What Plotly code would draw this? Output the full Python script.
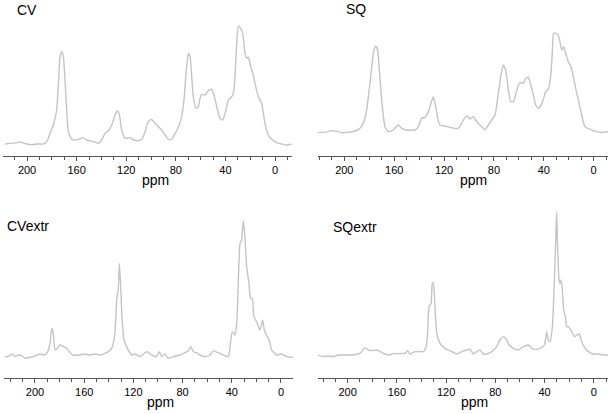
import plotly.graph_objects as go

# ---------------- data ----------------
cv_ppm = [217.7, 208.3, 205.6, 200.3, 194.9, 192.2, 186.8, 184.1, 181.5, 178.8, 176.1, 174.7, 173.4, 172.0,
          170.7, 169.4, 168.0, 166.7, 164.0, 161.3, 158.6, 155.1, 151.9, 146.5, 142.5, 139.8, 137.1, 134.4,
          131.7, 129.0, 127.2, 125.5, 123.7, 121.0, 116.9, 114.2, 110.2, 107.5, 104.8, 102.2, 99.5, 96.8,
          94.1, 91.4, 88.7, 86.0, 83.3, 80.6, 78.0, 75.3, 73.4, 71.8, 69.9, 68.5, 67.2, 65.9, 63.7, 61.8,
          60.5, 59.1, 56.5, 53.8, 51.1, 49.2, 47.0, 44.4, 42.2, 40.3, 37.6, 35.8, 33.6, 32.3, 30.9, 29.6,
          27.7, 26.1, 24.2, 22.8, 21.5, 19.6, 17.5, 15.6, 13.4, 10.8, 8.1, 5.4, 2.7, -1.3, -5.4, -9.4, -13.4]
cv_int = [0, 4, 6, 0, -2, 0, 0, 7, 32, 57, 102, 182, 262, 277,
          262, 192, 102, 37, 14, 12, 14, 19, 12, 7, 2, 12, 32, 40,
          57, 87, 99, 87, 42, 17, 19, 12, 10, 14, 37, 67, 74, 62,
          52, 42, 27, 14, 14, 32, 50, 82, 132, 212, 272, 262, 202, 142, 107, 112,
          137, 149, 147, 160, 164, 147, 112, 77, 72, 92, 132, 137, 152, 202, 302, 354,
          347, 332, 272, 257, 260, 232, 207, 172, 142, 122, 62, 27, 14, 4, 0, -3, 0]

sq_ppm = [220.9, 215.5, 210.2, 204.8, 202.1, 196.8, 191.4, 187.4, 184.8, 182.1, 179.4, 176.7, 174.9, 173.3,
          171.7, 169.5, 167.4, 164.7, 160.7, 156.7, 154.0, 150.0, 143.3, 140.6, 138.0, 135.3, 132.6, 130.5,
          128.6, 126.7, 125.1, 123.3, 119.3, 115.2, 111.2, 108.6, 105.9, 103.7, 101.3, 99.2, 96.5, 94.7,
          92.5, 89.8, 87.2, 84.5, 81.8, 79.1, 76.5, 74.3, 72.5, 70.6, 68.4, 66.6, 64.4, 62.6, 60.4, 58.6,
          56.4, 54.5, 52.4, 50.5, 48.4, 46.5, 44.4, 42.5, 40.4, 38.5, 36.4, 34.5, 33.2, 32.1, 30.5, 28.9,
          27.3, 25.7, 24.1, 22.5, 20.3, 18.2, 16.3, 14.4, 12.3, 9.6, 7.0, 1.6, -2.4, -6.4, -11.8]
sq_int = [0, 0, 5, 2, -1, 0, 4, 12, 27, 67, 147, 237, 259, 247,
          177, 77, 17, 2, 7, 22, 12, 7, 7, 17, 42, 45, 62, 87,
          107, 77, 42, 22, 19, 15, 12, 12, 27, 42, 49, 40, 47, 37,
          27, 17, 7, 22, 37, 52, 117, 172, 202, 187, 127, 92, 92, 112, 142, 149,
          147, 162, 165, 142, 112, 82, 72, 79, 99, 122, 129, 167, 237, 297, 297, 295,
          277, 247, 257, 237, 212, 197, 167, 132, 97, 52, 17, 7, 2, 0, 2]

cve_ppm = [224.4, 221.7, 219.0, 216.3, 213.6, 210.8, 208.1, 204.1, 200.0, 195.9, 191.9, 189.7, 187.8, 186.4,
           185.1, 183.7, 181.8, 179.7, 176.7, 174.3, 171.5, 168.8, 163.4, 159.3, 155.3, 151.2, 147.2, 143.1,
           140.4, 137.7, 135.0, 133.6, 132.2, 131.4, 130.4, 129.3, 127.6, 125.5, 121.4, 118.7, 114.6, 109.2,
           105.1, 101.1, 98.9, 97.0, 94.3, 91.6, 87.5, 82.1, 78.0, 75.3, 73.2, 71.3, 68.6, 65.9, 61.8, 57.7,
           55.0, 50.9, 46.9, 42.8, 41.5, 39.6, 37.4, 36.0, 34.7, 33.3, 32.0, 30.6, 29.3, 27.9, 26.0, 24.7,
           23.3, 22.0, 19.8, 17.1, 14.9, 13.6, 11.7, 9.5, 7.6, 3.5, -0.5, -4.6, -7.3, -10.0]
cve_int = [0, 0, 8, 0, 5, 3, -5, -2, 2, 8, 5, 15, 40, 85,
           70, 20, 25, 35, 30, 25, 12, 5, 5, 8, 5, 8, 5, 10,
           15, 25, 70, 170, 205, 280, 220, 120, 50, 30, 5, 8, 0, 15,
           5, 0, 15, 0, 8, -5, 0, 5, 12, 18, 30, 15, 12, 5, 0, 5,
           18, 12, 5, 0, 25, 75, 65, 100, 220, 340, 350, 408, 360, 270, 220, 175,
           175, 120, 105, 80, 110, 80, 65, 50, 20, 5, 8, 0, -2, 0]

sqe_ppm = [224.4, 219.8, 215.7, 211.7, 207.6, 202.2, 196.7, 191.3, 188.6, 185.9, 183.2, 180.5, 176.4, 173.7,
           169.6, 165.6, 162.9, 160.2, 156.1, 153.4, 151.2, 149.3, 145.3, 141.2, 138.5, 136.3, 135.0, 133.9,
           132.2, 131.2, 130.4, 129.0, 127.6, 124.9, 120.9, 115.4, 111.4, 107.3, 103.3, 100.5, 97.8, 95.1,
           92.4, 89.7, 87.0, 82.9, 78.9, 76.2, 73.4, 70.7, 68.8, 65.3, 61.2, 57.2, 53.1, 50.4, 47.7, 43.6,
           40.1, 38.2, 36.9, 35.5, 33.6, 32.0, 30.9, 30.1, 29.3, 28.2, 27.4, 26.6, 25.5, 24.4, 23.0, 22.0,
           20.6, 17.9, 15.7, 13.8, 11.9, 9.8, 7.0, 4.3, 0.3, -3.8, -7.9, -11.9]
sqe_int = [0, -5, -3, -5, 0, 0, 0, 3, 10, 22, 15, 13, 15, 10,
           3, 0, 5, 3, 5, 5, 13, 3, 10, 10, 10, 25, 65, 145,
           155, 215, 217, 145, 65, 35, 20, 10, 3, 10, 15, 17, 3, 10,
           15, 3, 3, 10, 25, 45, 55, 45, 30, 20, 15, 25, 30, 20, 17, 20,
           30, 70, 45, 40, 85, 225, 345, 430, 315, 225, 215, 225, 195, 135, 115, 85,
           85, 70, 55, 60, 63, 40, 20, 10, 3, 3, 0, 0]

titles = ["CV", "SQ", "CVextr", "SQextr"]
axis_title = "ppm"
tick_vals = [200, 160, 120, 80, 40, 0]
tick_text = ["200", "160", "120", "80", "40", "0"]

# ---------------- layout helpers ----------------
W, H = 609, 414
def px_x(p):
    return p / W
def px_y(p):
    return 1 - p / H

panels = [
    dict(xs=(3, 292), ys=(20, 156), xr=[219.4, -13.7], yr=[-36, 372], tpos=(15, 10), ppos=(155, 180)),
    dict(xs=(318, 608), ys=(20, 156), xr=[221.1, -11.5], yr=[-71, 337], tpos=(344, 9), ppos=(473, 180)),
    dict(xs=(4, 293), ys=(205, 378), xr=[225.2, -9.8], yr=[-64, 455], tpos=(5, 226), ppos=(160, 402)),
    dict(xs=(318, 608), ys=(205, 378), xr=[224.1, -11.6], yr=[-69, 450], tpos=(331, 227), ppos=(474, 402)),
]
series = [(cv_ppm, cv_int), (sq_ppm, sq_int), (cve_ppm, cve_int), (sqe_ppm, sqe_int)]

fig = go.Figure()
layout = dict(width=W, height=H, margin=dict(l=0, r=0, t=0, b=0),
              paper_bgcolor="white", plot_bgcolor="white", showlegend=False,
              font=dict(family="Liberation Sans, Arial, sans-serif", color="black"))
annotations = []
for i, (pan, (xx, yy)) in enumerate(zip(panels, series)):
    n = "" if i == 0 else str(i + 1)
    fig.add_trace(go.Scatter(x=xx, y=yy, mode="lines", xaxis="x" + n, yaxis="y" + n,
                             line=dict(color="#c4c4c4", width=1.4, shape="spline", smoothing=0.5),
                             hoverinfo="skip"))
    layout["xaxis" + n] = dict(domain=[px_x(pan["xs"][0]), px_x(pan["xs"][1])], range=pan["xr"],
                               anchor="y" + n, showline=True, linecolor="#555555", linewidth=1,
                               showgrid=False, zeroline=False, ticks="outside", ticklen=4,
                               tickcolor="#555555", tickvals=tick_vals, ticktext=tick_text,
                               tickfont=dict(size=11, color="black"),
                               minor=dict(dtick=10, ticks="outside", ticklen=3, tickcolor="#555555"))
    layout["yaxis" + n] = dict(domain=[px_y(pan["ys"][1]), px_y(pan["ys"][0])], range=pan["yr"],
                               anchor="x" + n, visible=False)
    annotations.append(dict(text=titles[i], x=px_x(pan["tpos"][0]), y=px_y(pan["tpos"][1]),
                            xref="paper", yref="paper", xanchor="left", yanchor="middle",
                            showarrow=False, font=dict(size=14, color="black")))
    annotations.append(dict(text=axis_title, x=px_x(pan["ppos"][0]), y=px_y(pan["ppos"][1]),
                            xref="paper", yref="paper", xanchor="center", yanchor="middle",
                            showarrow=False, font=dict(size=14, color="black")))
layout["annotations"] = annotations
fig.update_layout(**layout)
fig.write_html("out.html", config={"displayModeBar": False, "staticPlot": True},
               post_script="document.body.style.margin='0';document.body.style.overflow='hidden';")
